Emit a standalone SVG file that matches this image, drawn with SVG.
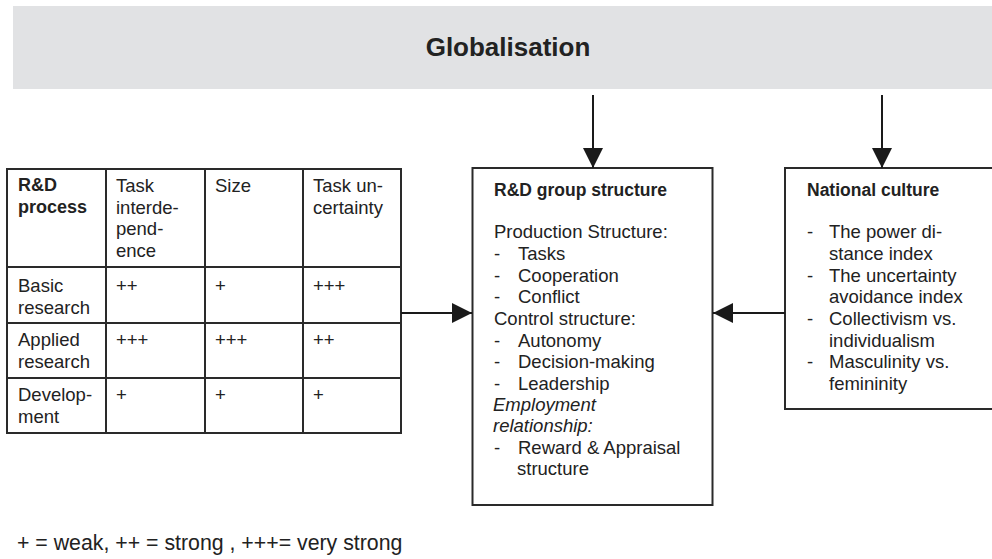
<svg xmlns="http://www.w3.org/2000/svg" width="992" height="559" viewBox="0 0 992 559">
<defs>
<marker id="arr" viewBox="0 0 20 20" refX="20" refY="10" markerWidth="20" markerHeight="20" markerUnits="userSpaceOnUse" orient="auto">
<path d="M0,0 L20,10 L0,20 Z" fill="#1a1a1a"/>
</marker>
<style>
text{font-family:"Liberation Sans",Arial,sans-serif;font-size:18.5px;fill:#222}
.b{font-weight:bold;font-size:17.5px}
.i{font-style:italic}
.box{fill:#fff;stroke:#2a2a2a;stroke-width:2}
.ln{stroke:#2a2a2a;stroke-width:2;fill:none}
.con{stroke:#1a1a1a;stroke-width:2;fill:none;marker-end:url(#arr)}
</style>
</defs>
<rect width="992" height="559" fill="#fff"/>

<g id="globalisation">
<rect x="13" y="6" width="979" height="83" fill="#e1e2e4"/>
<text x="508" y="56" text-anchor="middle" style="font-weight:bold;font-size:26px">Globalisation</text>
</g>

<g id="rd-process-table">
<rect class="box" x="7" y="169" width="394" height="264"/>
<line class="ln" x1="106" y1="169" x2="106" y2="433"/>
<line class="ln" x1="205" y1="169" x2="205" y2="433"/>
<line class="ln" x1="303" y1="169" x2="303" y2="433"/>
<line class="ln" x1="7" y1="267" x2="401" y2="267"/>
<line class="ln" x1="7" y1="323" x2="401" y2="323"/>
<line class="ln" x1="7" y1="378" x2="401" y2="378"/>
<text class="b" x="18" y="191" style="font-size:18px">R&amp;D</text>
<text class="b" x="18" y="213" style="font-size:18px">process</text>
<text x="116" y="192">Task</text>
<text x="116" y="213.5">interde-</text>
<text x="116" y="235">pend-</text>
<text x="116" y="256.5">ence</text>
<text x="215" y="192">Size</text>
<text x="313" y="192">Task un-</text>
<text x="313" y="213.5">certainty</text>
<text x="18" y="292">Basic</text>
<text x="18" y="313.5">research</text>
<text x="116" y="292">++</text>
<text x="215" y="292">+</text>
<text x="313" y="292">+++</text>
<text x="18" y="346">Applied</text>
<text x="18" y="367.5">research</text>
<text x="116" y="346">+++</text>
<text x="215" y="346">+++</text>
<text x="313" y="346">++</text>
<text x="18" y="401">Develop-</text>
<text x="18" y="422.5">ment</text>
<text x="116" y="401">+</text>
<text x="215" y="401">+</text>
<text x="313" y="401">+</text>
</g>

<g id="rd-group-structure">
<rect class="box" x="472.5" y="168" width="240" height="337"/>
<text class="b" x="494" y="196">R&amp;D group structure</text>
<text x="494" y="238">Production Structure:</text>
<text x="494" y="260">-</text><text x="518" y="260">Tasks</text>
<text x="494" y="281.5">-</text><text x="518" y="281.5">Cooperation</text>
<text x="494" y="303">-</text><text x="518" y="303">Conflict</text>
<text x="494" y="325">Control structure:</text>
<text x="494" y="346.5">-</text><text x="518" y="346.5">Autonomy</text>
<text x="494" y="368">-</text><text x="518" y="368">Decision-making</text>
<text x="494" y="390">-</text><text x="518" y="390">Leadership</text>
<text class="i" x="493" y="410.5">Employment</text>
<text class="i" x="493" y="432">relationship:</text>
<text x="494" y="453.5">-</text><text x="518" y="453.5">Reward &amp; Appraisal</text>
<text x="517" y="475">structure</text>
</g>

<g id="national-culture">
<rect class="box" x="785" y="168" width="220" height="241"/>
<text class="b" x="807" y="196">National culture</text>
<text x="807" y="238">-</text><text x="829" y="238">The power di-</text>
<text x="829" y="260">stance index</text>
<text x="807" y="281.5">-</text><text x="829" y="281.5">The uncertainty</text>
<text x="829" y="303">avoidance index</text>
<text x="807" y="325">-</text><text x="829" y="325">Collectivism vs.</text>
<text x="829" y="346.5">individualism</text>
<text x="807" y="368">-</text><text x="829" y="368">Masculinity vs.</text>
<text x="829" y="390">femininity</text>
</g>

<g id="legend">
<text x="17" y="550" style="font-size:21.3px">+ = weak, ++ = strong , +++= very strong</text>
</g>

<g id="connectors">
<line class="con" x1="593" y1="95" x2="593" y2="168"/>
<line class="con" x1="882" y1="95" x2="882" y2="168"/>
<line class="con" x1="401" y1="313" x2="472" y2="313"/>
<line class="con" x1="785" y1="313" x2="713" y2="313"/>
</g>
</svg>
